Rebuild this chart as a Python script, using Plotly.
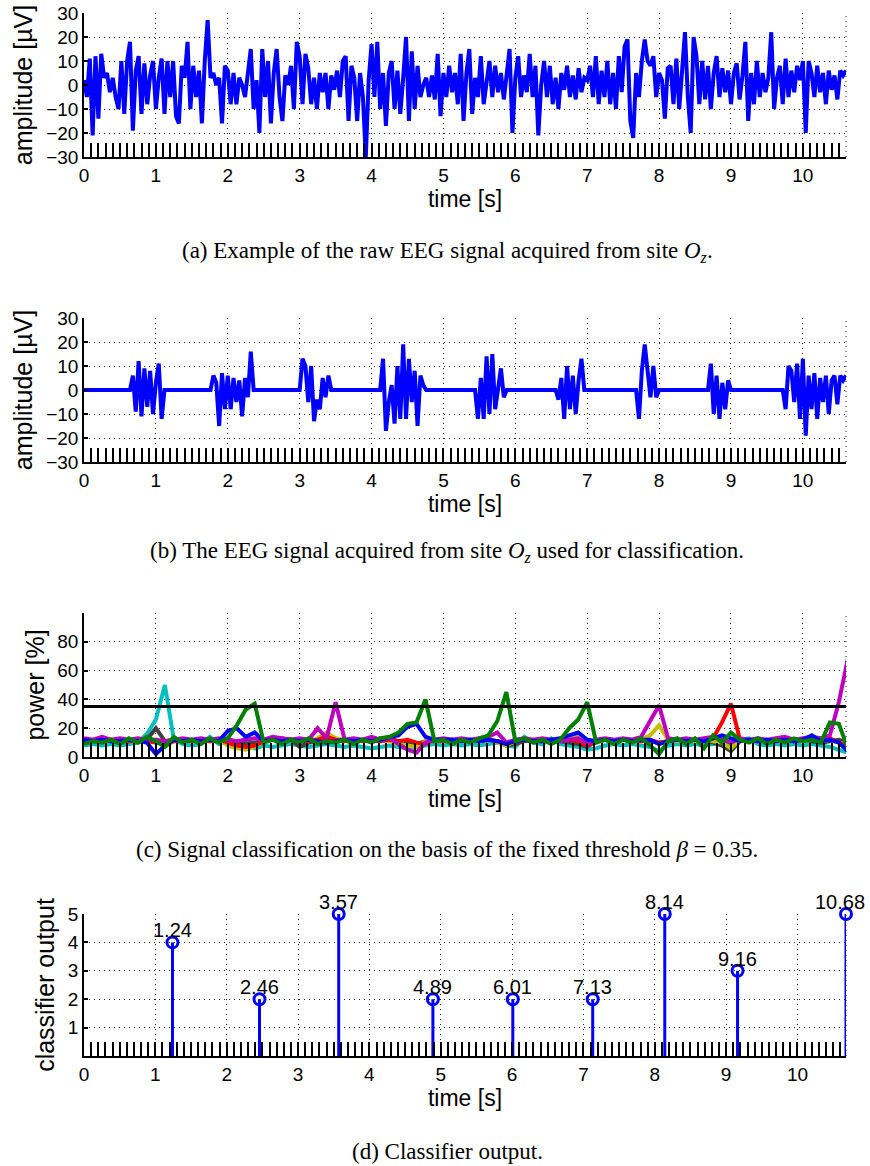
import numpy as np
import plotly.graph_objects as go

# ---- (a) raw EEG signal, one value every 0.04 s ----
raw_eeg = (
    [2, -5, 11, -21, 12, -14, 13, 3, 5, -3, 3, -5, -10, 10, -12, 10, 18, -19, 6, 12, -12, 9, -8, 4, 10]
    + [-10, 3, 11, -12, 10, -5, 10, -13, -16, 8, 3, 18, -10, 8, -5, 6, -16, 10, 27, 3, 5, 0, 3, -16, 8]
    + [6, -8, 5, -8, 3, 0, -5, 4, 15, -10, 2, -20, 15, -5, 10, -16, 5, 15, -5, -15, 4, 0, 8, -10, 18]
    + [12, -8, 13, 7, -8, 3, -10, 5, -3, 5, -10, 4, -2, 6, -5, 10, 12, -15, 8, 3, -15, 5, -5, -30, 2]
    + [17, -5, 18, -10, 5, -17, 5, 10, -10, 6, -12, 3, 20, -15, 14, -10, 8, -5, 0, 3, -5, 4, -6, 13, -13]
    + [5, -5, 8, -3, 5, -8, 13, -15, 5, 15, -12, 3, -5, 12, -8, 2, 10, -5, 8, -3, 5, -6, 3, 15, -20]
    + [3, 12, -5, 4, -3, 13, -5, 8, -21, 0, 10, -5, 8, -8, 3, -10, 5, -2, 8, -5, 4, -6, 7, -3, 3]
    + [2, 8, -5, 12, -8, 6, -5, 10, -8, 5, -10, 12, -3, 16, 19, -15, -22, 5, -5, 10, 19, 10, 8, 12, -5]
    + [5, 2, -14, 7, 8, -8, 11, -10, 5, 22, -5, -20, 20, 12, -8, 10, -6, 8, -10, 5, 12, -5, 7, -3, 6]
    + [-8, 5, 9, -6, 4, 18, -15, 5, -8, 10, -5, 5, -3, 3, 22, -10, 3, 8, -8, 11, -5, 6, -3, 8, 2]
    + [10, -20, 10, 5, -5, 8, -3, 5, -8, 6, -2, 4, -6, 6, 4, 6]
)

# ---- (b) signal used for classification (same time base) ----
used_eeg = (
    [0] * 17 + [6, -9, 12, -11, 9, -7, 8, -10]
    + [3, 11, -12] + [0] * 17 + [6, 3, -15, 7, -8]
    + [6, -8, 5, -5, 4, -11, 5, -3, 16] + [0] * 16
    + [0, 13, 10, -5, 10, -13, -4, -8, 5, -3, 6] + [0] * 14
    + [0] * 4 + [13, -17, -5, 2, -14, 10, -12, 19, -12, 13, -5, 8, -15, 6, 2] + [0] * 6
    + [0] * 12 + [-12, 5, -12, 14, -10, 15, -8, 2, 9, -3] + [0] * 3
    + [0] * 15 + [-4, 5, -12, 10, -8, 6, -10, 4, 13] + [0]
    + [0] * 18 + [-12, 8, 19, 8, -3, 10, -3]
    + [0] * 18 + [11, -10, 6, -12, 3, -8, 4]
    + [0] * 19 + [-8, 10, 8, -5, 11, -12]
    + [13, -19, 6, -8, 7, -12, 5, -5, 6, -10, 4, 6, -6, 6, 4, 6]
)
eeg_time = np.round(np.arange(len(raw_eeg)) * 0.04, 2)

# ---- (c) relative power per stimulus frequency, one value every 0.125 s ----
power_blue = [12, 11, 12, 11, 11, 12, 11, 10, 2, 8, 12, 11, 12, 11, 12, 11,
              18, 20, 14, 17, 11, 12, 11, 12, 11, 12, 11, 10, 11, 12, 11, 12,
              11, 12, 14, 15, 21, 23, 14, 12, 12, 12, 11, 12, 11, 12, 11, 9,
              11, 12, 11, 11, 12, 13, 15, 17, 12, 11, 12, 11, 12, 11, 12, 12,
              9, 11, 12, 11, 12, 11, 13, 15, 13, 11, 12, 11, 12, 11, 12, 11,
              12, 15, 11, 12, 10, 4]
power_green = [9, 11, 10, 12, 9, 13, 10, 14, 11, 7, 14, 10, 12, 9, 13, 10,
               13, 22, 33, 37, 10, 12, 9, 12, 10, 13, 9, 11, 10, 12, 9, 12,
               10, 13, 14, 17, 23, 24, 40, 11, 12, 9, 12, 10, 13, 15, 25, 45,
               11, 13, 10, 12, 9, 12, 20, 26, 38, 10, 12, 9, 12, 10, 13, 8,
               2, 11, 13, 9, 13, 6, 15, 10, 17, 12, 10, 13, 9, 12, 10, 13,
               11, 12, 10, 24, 23, 6]
power_red = [11, 12, 11, 12, 11, 11, 12, 11, 10, 9, 11, 12, 11, 12, 11, 12,
             10, 8, 7, 8, 11, 12, 13, 12, 12, 11, 12, 14, 12, 11, 12, 11,
             12, 11, 12, 11, 12, 10, 9, 12, 11, 12, 11, 12, 11, 12, 11, 10,
             11, 12, 11, 12, 11, 12, 12, 11, 8, 11, 12, 11, 12, 12, 11, 12,
             10, 11, 12, 11, 12, 11, 13, 24, 37, 12, 11, 12, 11, 12, 12, 11,
             12, 12, 11, 13, 10, 8]
power_cyan = [8, 9, 8, 9, 8, 9, 10, 16, 26, 50, 12, 9, 8, 9, 14, 9,
              11, 9, 13, 6, 8, 7, 8, 9, 8, 7, 8, 9, 8, 7, 8, 7,
              6, 7, 8, 7, 6, 7, 8, 9, 8, 9, 8, 9, 8, 9, 10, 8,
              7, 14, 10, 9, 13, 9, 8, 7, 5, 6, 8, 9, 8, 9, 8, 7,
              4, 8, 9, 8, 9, 8, 9, 10, 9, 12, 13, 9, 8, 9, 8, 9,
              8, 9, 8, 7, 5, 3]
power_magenta = [13, 12, 14, 12, 13, 12, 13, 12, 12, 11, 12, 13, 12, 13, 12, 13,
                 12, 11, 12, 13, 12, 14, 13, 12, 13, 12, 20, 13, 38, 12, 13, 12,
                 14, 12, 13, 9, 5, 3, 10, 12, 13, 12, 13, 12, 13, 14, 17, 10,
                 12, 13, 12, 13, 12, 11, 12, 13, 9, 12, 13, 12, 13, 12, 14, 25,
                 36, 13, 12, 13, 12, 13, 14, 12, 10, 13, 12, 13, 12, 13, 14, 12,
                 13, 14, 13, 15, 38, 68]
power_yellow = [11, 12, 11, 12, 11, 12, 11, 12, 11, 7, 11, 12, 11, 12, 11, 12,
                8, 6, 5, 7, 11, 12, 11, 12, 12, 11, 13, 17, 13, 12, 11, 12,
                11, 12, 11, 9, 8, 7, 11, 12, 11, 12, 11, 12, 11, 12, 10, 8,
                11, 12, 11, 12, 11, 12, 14, 16, 12, 11, 12, 11, 12, 11, 12, 15,
                22, 12, 11, 12, 11, 12, 11, 10, 6, 12, 11, 12, 11, 12, 11, 12,
                11, 12, 11, 12, 10, 9]
power_gray = [12, 11, 12, 11, 12, 11, 12, 12, 20, 11, 12, 11, 12, 11, 12, 11,
              13, 10, 9, 10, 11, 12, 11, 12, 7, 10, 11, 12, 11, 12, 11, 12,
              11, 13, 13, 11, 10, 9, 11, 12, 11, 12, 11, 12, 11, 12, 11, 8,
              9, 11, 12, 11, 12, 11, 10, 9, 7, 11, 12, 11, 12, 11, 12, 11,
              10, 11, 12, 11, 12, 11, 10, 8, 4, 11, 12, 11, 12, 11, 12, 11,
              12, 11, 10, 11, 12, 10]
power_time = np.arange(len(power_blue)) * 0.125
threshold = 35

# ---- (d) classifier output ----
detect_time = [1.24, 2.46, 3.57, 4.89, 6.01, 7.13, 8.14, 9.16, 10.68]
detect_class = [4, 2, 5, 2, 2, 2, 5, 3, 5]

captions = [
    "(a) Example of the raw EEG signal acquired from site <i>O<sub>z</sub></i>.",
    "(b) The EEG signal acquired from site <i>O<sub>z</sub></i> used for classification.",
    "(c) Signal classification on the basis of the fixed threshold <i>β</i> = 0.35.",
    "(d) Classifier output.",
]

W, H = 870, 1166
SANS = "Liberation Sans, Arial, Helvetica, sans-serif"
SERIF = "Liberation Serif, Times New Roman, serif"
BLUE = "#0000ff"

# pixel positions (top, bottom) of the four plot areas
boxes = [(13, 157), (318, 462), (613, 757), (914, 1056)]
caption_y = [252, 552, 849, 1151]


def px(x):
    return x / W


def py(y):
    return 1 - y / H


x_dom = [px(84), px(846)]

fig = go.Figure()

fig.add_trace(go.Scatter(x=eeg_time, y=raw_eeg, mode="lines",
                         line=dict(color=BLUE, width=4), xaxis="x", yaxis="y"))
fig.add_trace(go.Scatter(x=eeg_time, y=used_eeg, mode="lines",
                         line=dict(color=BLUE, width=4), xaxis="x2", yaxis="y2"))

power_series = [
    (power_cyan, "#00bfbf"),
    (power_gray, "#404040"),
    (power_yellow, "#bfbf00"),
    (power_red, "#ff0000"),
    (power_magenta, "#bf00bf"),
    (power_blue, "#0000ff"),
    (power_green, "#008000"),
]
for vals, col in power_series:
    fig.add_trace(go.Scatter(x=power_time, y=vals, mode="lines",
                             line=dict(color=col, width=4), xaxis="x3", yaxis="y3"))
fig.add_trace(go.Scatter(x=[0, 10.6], y=[threshold, threshold], mode="lines",
                         line=dict(color="black", width=3), xaxis="x3", yaxis="y3"))

# stems
stem_x, stem_y = [], []
for t, c in zip(detect_time, detect_class):
    stem_x += [t, t, None]
    stem_y += [0, c, None]
fig.add_trace(go.Scatter(x=stem_x, y=stem_y, mode="lines", cliponaxis=False,
                         line=dict(color=BLUE, width=3), xaxis="x4", yaxis="y4"))
fig.add_trace(go.Scatter(x=detect_time, y=detect_class, mode="markers",
                         marker=dict(symbol="circle-open", size=11, color=BLUE,
                                     line=dict(width=3, color=BLUE)),
                         cliponaxis=False, xaxis="x4", yaxis="y4"))
for t, c in zip(detect_time, detect_class):
    fig.add_annotation(x=t, y=c, xref="x4", yref="y4", text=f"{t:.2f}", showarrow=False,
                       xanchor="center", yanchor="bottom", yshift=-1,
                       xshift=-6 if t > 10.6 else 0,
                       font=dict(family=SANS, size=20, color="black"))

ax_common = dict(showline=True, linecolor="black", linewidth=1.5, zeroline=False,
                 showgrid=True, gridcolor="#222", gridwidth=1, griddash="1px,4px",
                 automargin=False,
                 tickfont=dict(family=SANS, size=19, color="black"))

yspecs = [
    dict(range=[-30, 30], tickvals=[-30, -20, -10, 0, 10, 20, 30], title="amplitude [µV]"),
    dict(range=[-30, 30], tickvals=[-30, -20, -10, 0, 10, 20, 30], title="amplitude [µV]"),
    dict(range=[0, 100], tickvals=[0, 20, 40, 60, 80, 100],
         ticktext=["0", "20", "40", "60", "80", " "], title="power [%]"),
    dict(range=[0, 5], tickvals=[1, 2, 3, 4, 5], title="classifier output"),
]

layout = dict(width=W, height=H, margin=dict(l=0, r=0, t=0, b=0),
              paper_bgcolor="white", plot_bgcolor="white", showlegend=False)

for i, ((top, bot), ys) in enumerate(zip(boxes, yspecs)):
    n = "" if i == 0 else str(i + 1)
    xr = [0, 10.68] if i == 3 else [0, 10.6]
    layout["xaxis" + n] = dict(
        ax_common, domain=x_dom, anchor="y" + n, range=xr,
        tickmode="array", tickvals=list(range(11)),
        ticks="inside", ticklen=14, tickwidth=1.5, tickcolor="black",
        minor=dict(tickmode="linear", tick0=0, dtick=0.1, ticks="inside", ticklen=14,
                   tickwidth=1.5, tickcolor="black", showgrid=False),
        title=dict(text="time [s]", font=dict(family=SANS, size=23, color="black"),
                   standoff=3),
    )
    yd = dict(ax_common, domain=[py(bot), py(top)], anchor="x" + n, range=ys["range"],
              tickmode="array", tickvals=ys["tickvals"], ticks="inside", ticklen=4,
              tickwidth=1.5, tickcolor="black",
              title=dict(text=ys["title"], font=dict(family=SANS, size=25, color="black"),
                         standoff=6))
    if "ticktext" in ys:
        yd["ticktext"] = ys["ticktext"]
    layout["yaxis" + n] = yd

fig.update_layout(**layout)

# dotted right border of each plot area
for i in range(4):
    n = "" if i == 0 else str(i + 1)
    fig.add_shape(type="line", xref=f"x{n} domain", yref=f"y{n} domain",
                  x0=1, x1=1, y0=0, y1=1, line=dict(color="#222", width=1, dash="1px,4px"))

for cap, cy in zip(captions, caption_y):
    fig.add_annotation(text=cap, xref="paper", yref="paper", x=px(447), y=py(cy),
                       xanchor="center", yanchor="middle", showarrow=False,
                       font=dict(family=SERIF, size=23, color="black"))

# drop the default page margin so the figure fills the window exactly
fig.write_html("out.html", config={"displayModeBar": False},
               post_script="document.body.style.margin = '0';")
